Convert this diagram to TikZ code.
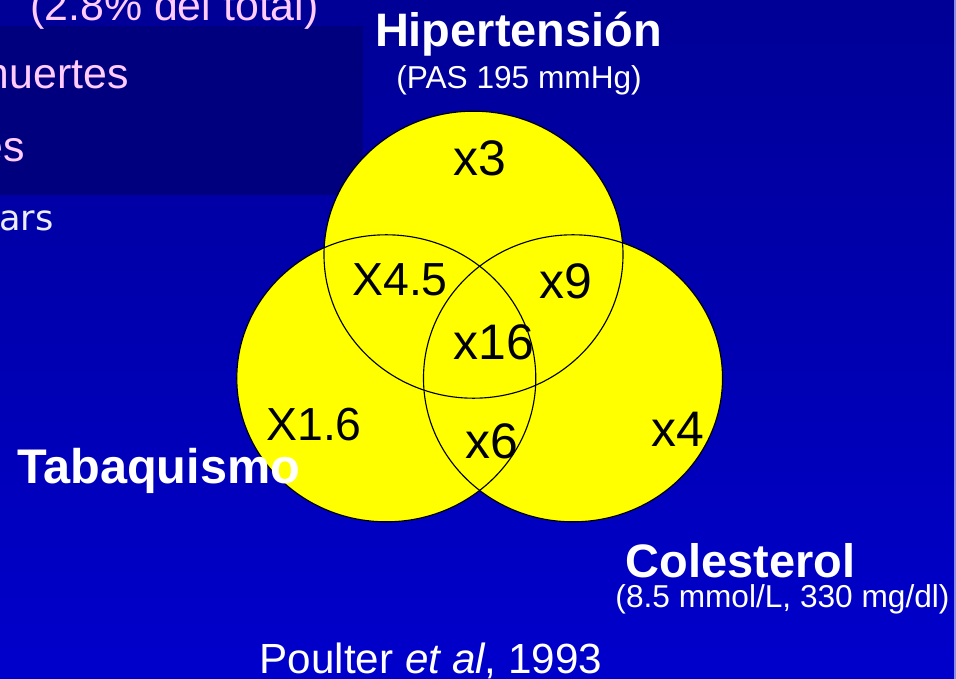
\documentclass[tikz,border=0pt]{standalone}
\usepackage{fontspec}
\setmainfont{Liberation Sans}
\newfontfamily\slidefont{DejaVu Sans}
\usetikzlibrary{shapes.geometric}
\definecolor{slidetop}{RGB}{0,0,150}
\definecolor{slidebottom}{RGB}{0,0,204}
\definecolor{boxnavy}{RGB}{0,0,126}
\definecolor{textpink}{RGB}{255,204,255}
\definecolor{textpale}{RGB}{236,236,255}
\definecolor{edgeblue}{RGB}{140,140,235}
\definecolor{vennyellow}{RGB}{255,255,0}

\begin{document}
\begin{tikzpicture}[x=0.25mm, y=-0.25mm,
    venn/.style={ellipse, minimum width=74.75mm, minimum height=71.75mm,
        inner sep=0pt},
    factor/.style={font=\fontsize{35.5}{40}\selectfont, inner sep=0pt},
    capfactor/.style={font=\fontsize{33}{38}\selectfont, inner sep=0pt},
    risk/.style={font=\bfseries\fontsize{33.4}{38}\selectfont, text=white,
        inner sep=0pt, anchor=base},
    detail/.style={font=\fontsize{22.5}{26}\selectfont, text=white,
        inner sep=0pt, anchor=base},
    bullet/.style={font=\fontsize{30.5}{34}\selectfont, text=textpink,
        inner sep=0pt}
]
\useasboundingbox (0,0) rectangle (956,679);
\shade[top color=slidetop, bottom color=slidebottom] (0,0) rectangle (956,679);
\clip (0,0) rectangle (956,679);
\fill[boxnavy] (0,26) rectangle (363,195);
\fill[edgeblue] (954,0) rectangle (956,679);

\node[bullet, anchor=base west] (share) at (30,21) {(2.8\% del total)};
\node[bullet, anchor=base east] (deaths) at (129,89) {muertes};
\node[bullet, anchor=base east] (lineend) at (25,162) {es};
\node[anchor=base west, inner sep=0pt, text=textpale,
    font=\slidefont\fontsize{25}{30}\selectfont] (wordend) at (-1,230) {ars};

\node[venn, fill=vennyellow] (hyp) at (473.5,254.7) {};
\node[venn, fill=vennyellow] (tab) at (386.3,378.3) {};
\node[venn, fill=vennyellow] (col) at (573,378.3) {};
\foreach \c in {hyp,tab,col}
    \node[venn, draw=black, line width=0.8pt] at (\c) {};

\node[factor] (hypOnly) at (480,158) {x3};
\node[capfactor] (hypTab) at (400,280) {X4.5};
\node[factor] (hypCol) at (566,281) {x9};
\node[factor] (allThree) at (494,342) {x16};
\node[capfactor] (tabOnly) at (314,425) {X1.6};
\node[factor] (tabCol) at (492,441) {x6};
\node[factor] (colOnly) at (678,429) {x4};

\node[risk] (hypLabel) at (518.5,47) {Hipertensión};
\node[detail] (hypValue) at (519,89) {(PAS 195 mmHg)};
\node[risk, anchor=base west, font=\bfseries\fontsize{34.6}{39}\selectfont]
    (tabLabel) at (17,483) {Tabaquismo};
\node[risk] (colLabel) at (740.5,577) {Colesterol};
\node[detail] (colValue) at (782.5,607) {(8.5 mmol/L, 330 mg/dl)};
\node[detail, font=\fontsize{30}{34}\selectfont] (source) at (431,673)
    {Poulter \textit{et al}, 1993};
\end{tikzpicture}
\end{document}
